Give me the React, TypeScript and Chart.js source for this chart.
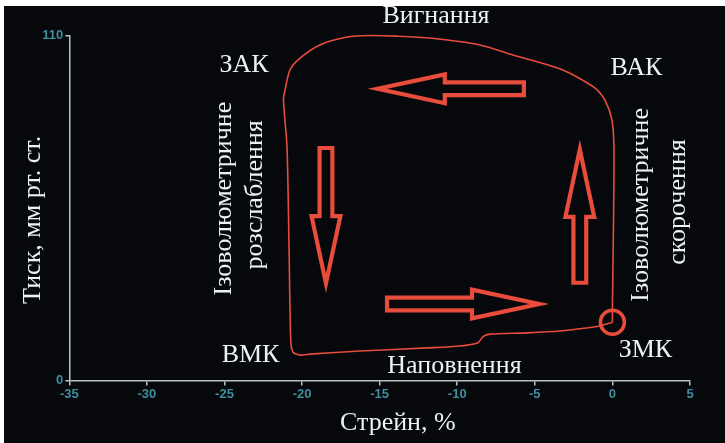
import { useEffect, useRef } from "react";
import { Chart, registerables } from "chart.js";

Chart.register(...registerables);

// Pressure–strain loop of the left ventricle
const STRAIN = [
  0, 0.0, 0.05, 0.1, -0.03, -0.48, -1.13, -3.2, -6.41, -8.54, -11.76, -13.89, -15.62, -17.1,
  -18.85, -20.13, -20.78, -21.1, -21.2, -20.97, -20.84, -20.73, -20.59, -20.13, -19.5, -16.27,
  -11.95, -9.83, -8.67, -8.34, -7.89, -5.51, -3.38, -1.0, -0.16, 0,
];
const PRESSURE = [
  18.6, 23.4, 41.6, 73.5, 83, 89.4, 93.3, 99.0, 103.8, 107.0, 109.2, 109.8, 110, 109.5, 107.0,
  102.8, 99.0, 92.6, 89.4, 74.5, 42.6, 12.9, 9.1, 8.1, 8.4, 9.4, 10.4, 11.0, 12.05, 14.0, 14.8,
  15.2, 15.8, 17.2, 18.3, 18.6,
];

// Mitral valve closure point (ring marker)
const ZMK_STRAIN = [0];
const ZMK_PRESSURE = [18.6];

const X_MIN = -35;
const X_MAX = 5;
const X_STEP = 5;
const Y_TICKS = [0, 110];

// Direction arrows of the cycle (tail -> tip, in axis units)
const ARROW_TAIL_X = [-5.57, -18.46, -14.66, -2.1];
const ARROW_TAIL_Y = [93, 74.8, 24.4, 30.5];
const ARROW_TIP_X = [-15.37, -18.46, -4.48, -2.1];
const ARROW_TIP_Y = [93, 29.8, 24.4, 74.8];

// Phase / valve labels (baseline positions, in axis units)
const LABEL_TEXT = ["Вигнання", "ЗАК", "ВАК", "ВМК", "ЗМК", "Наповнення"];
const LABEL_X = [-11.37, -23.74, 1.55, -23.32, 2.13, -10.18];
const LABEL_Y = [114.0, 98.4, 97.4, 5.9, 7.5, 2.4];

// Vertical phase labels (line centres, in axis units)
const PHASE_TEXT = ["Ізоволюметричне", "розслаблення", "Ізоволюметричне", "скорочення"];
const PHASE_X = [-25.0, -23.05, 1.86, 4.22];
const PHASE_Y = [58.0, 59.2, 56.0, 56.9];

const X_TITLE = "Стрейн, %";
const X_TITLE_POS = [-13.83, -15.8];
const Y_TITLE = "Тиск, мм рт. ст.";
const Y_TITLE_POS = [-37.34, 51.2];

const RED = "#e84c3d";
const AXIS = "#b8c0c4";
const TICK = "#3f8e9e";
const TEXT = "#eaf2f2";
const BG = "#07080b";
const SERIF = "'Liberation Serif', 'Times New Roman', serif";

function drawArrow(
  ctx: CanvasRenderingContext2D,
  x0: number,
  y0: number,
  x1: number,
  y1: number
) {
  const lw = 4.2;
  const h = lw / 2;
  const dx = x1 - x0;
  const dy = y1 - y0;
  const len = Math.hypot(dx, dy);
  const ux = dx / len;
  const uy = dy / len;
  const nx = -uy;
  const ny = ux;
  const shaft = 8.5 - h;
  const head = 16.5 - h;
  const headLen = 73;
  const alpha = Math.atan(head / (headLen - h));
  // the sharp miter fades out, so keep the path tip close to the outer tip
  const tipOff = (h / Math.sin(alpha)) * 0.35;
  const tx = x0 + ux * h;
  const ty = y0 + uy * h;
  const px = x1 - ux * tipOff;
  const py = y1 - uy * tipOff;
  const bx = x1 - ux * (headLen - h);
  const by = y1 - uy * (headLen - h);
  ctx.lineWidth = lw;
  ctx.beginPath();
  ctx.moveTo(tx + nx * shaft, ty + ny * shaft);
  ctx.lineTo(bx + nx * shaft, by + ny * shaft);
  ctx.lineTo(bx + nx * head, by + ny * head);
  ctx.lineTo(px, py);
  ctx.lineTo(bx - nx * head, by - ny * head);
  ctx.lineTo(bx - nx * shaft, by - ny * shaft);
  ctx.lineTo(tx - nx * shaft, ty - ny * shaft);
  ctx.closePath();
  ctx.stroke();
}

const overlay = {
  id: "overlay",
  afterDatasetsDraw(chart: any) {
    const { ctx, scales } = chart;
    const sx = scales.x;
    const sy = scales.y;
    ctx.save();

    ctx.strokeStyle = RED;
    ctx.lineJoin = "miter";
    ctx.miterLimit = 10;
    ARROW_TAIL_X.forEach((_, i) => {
      drawArrow(
        ctx,
        sx.getPixelForValue(ARROW_TAIL_X[i]),
        sy.getPixelForValue(ARROW_TAIL_Y[i]),
        sx.getPixelForValue(ARROW_TIP_X[i]),
        sy.getPixelForValue(ARROW_TIP_Y[i])
      );
    });

    ctx.fillStyle = TEXT;
    ctx.font = `26px ${SERIF}`;
    ctx.textAlign = "center";
    ctx.textBaseline = "alphabetic";
    LABEL_TEXT.forEach((t, i) => {
      ctx.fillText(t, sx.getPixelForValue(LABEL_X[i]), sy.getPixelForValue(LABEL_Y[i]));
    });
    ctx.fillText(
      X_TITLE,
      sx.getPixelForValue(X_TITLE_POS[0]),
      sy.getPixelForValue(X_TITLE_POS[1])
    );

    ctx.textBaseline = "middle";
    const rotated = (t: string, x: number, y: number) => {
      ctx.save();
      ctx.translate(sx.getPixelForValue(x), sy.getPixelForValue(y));
      ctx.rotate(-Math.PI / 2);
      ctx.fillText(t, 0, 0);
      ctx.restore();
    };
    PHASE_TEXT.forEach((t, i) => rotated(t, PHASE_X[i], PHASE_Y[i]));
    rotated(Y_TITLE, Y_TITLE_POS[0], Y_TITLE_POS[1]);

    ctx.restore();
  },
};

export default function App() {
  const ref = useRef<HTMLCanvasElement>(null);

  useEffect(() => {
    const canvas = ref.current;
    if (!canvas) return;
    const tickFont = { family: "'Liberation Sans', Arial, sans-serif", size: 13, weight: "bold" as const };
    const chart = new Chart(canvas, {
      type: "scatter",
      data: {
        datasets: [
          {
            data: STRAIN.map((x, i) => ({ x, y: PRESSURE[i] })),
            showLine: true,
            borderColor: RED,
            borderWidth: 1.6,
            pointRadius: 0,
            tension: 0.25,
            fill: false,
            clip: false as any,
          },
          {
            data: ZMK_STRAIN.map((x, i) => ({ x, y: ZMK_PRESSURE[i] })),
            showLine: false,
            pointRadius: 12,
            pointBorderWidth: 3.5,
            borderColor: RED,
            pointBorderColor: RED,
            backgroundColor: "rgba(0,0,0,0)",
            pointBackgroundColor: "rgba(0,0,0,0)",
            clip: false as any,
          },
        ],
      },
      options: {
        animation: false,
        responsive: false,
        layout: { padding: { left: 25.3, right: 35, top: 29.5, bottom: 32.5 } },
        plugins: { legend: { display: false }, tooltip: { enabled: false } },
        scales: {
          x: {
            type: "linear",
            min: X_MIN,
            max: X_MAX,
            ticks: { stepSize: X_STEP, color: TICK, font: tickFont, padding: 1, maxRotation: 0 },
            grid: { drawOnChartArea: false, tickLength: 5, color: AXIS, lineWidth: 1.5 },
            border: { color: AXIS, width: 1.5 },
            afterFit: (s: any) => {
              s.height = 30;
            },
          },
          y: {
            type: "linear",
            min: Y_TICKS[0],
            max: Y_TICKS[Y_TICKS.length - 1],
            ticks: { color: TICK, font: tickFont, padding: 2 },
            afterBuildTicks: (s: any) => {
              s.ticks = Y_TICKS.map((value) => ({ value }));
            },
            grid: { drawOnChartArea: false, tickLength: 4, color: AXIS, lineWidth: 1.5 },
            border: { color: AXIS, width: 1.5 },
            afterFit: (s: any) => {
              s.width = 40;
            },
          },
        },
      },
      plugins: [overlay],
    });
    return () => chart.destroy();
  }, []);

  return (
    <div
      style={{
        position: "absolute",
        left: 4,
        top: 6,
        width: 721,
        height: 437,
        background: BG,
      }}
    >
      <canvas ref={ref} width={721} height={437} style={{ display: "block" }} />
    </div>
  );
}
